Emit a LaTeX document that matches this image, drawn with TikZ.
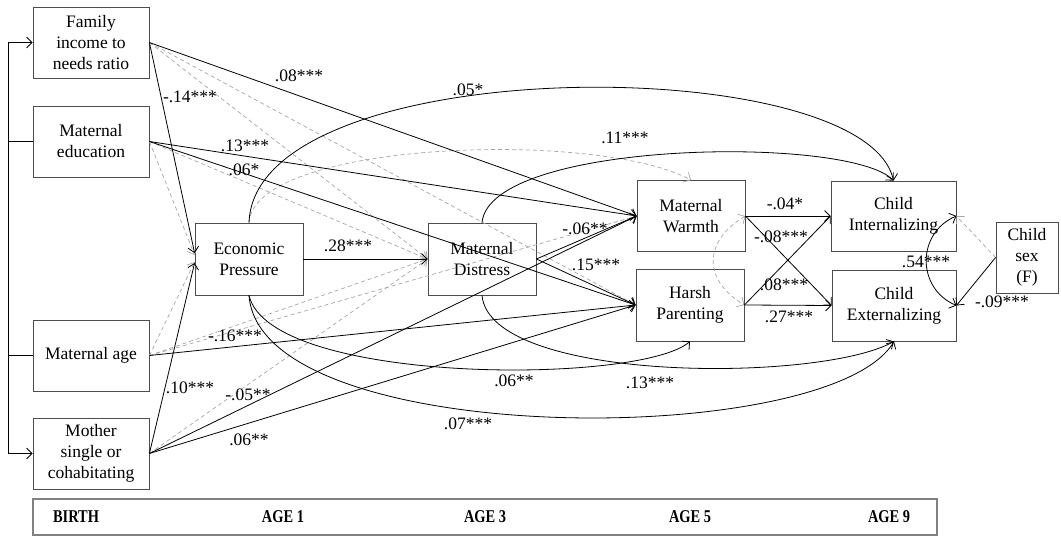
\documentclass[tikz,border=0pt]{standalone}
\usepackage{fontspec}
\setmainfont{Liberation Serif}
\usetikzlibrary{arrows.meta}
\tikzset{
  box/.style={draw=black!70, line width=0.8pt, align=center, inner sep=0pt},
  eff/.style={line width=0.8pt, ->},
  ns/.style={draw=black!35, dash pattern=on 4pt off 3pt, line width=0.7pt, ->},
  lbl/.style={inner sep=0pt},
  age/.style={inner sep=0pt, font=\fontsize{18}{20}\selectfont\bfseries},
}
\begin{document}
\begin{tikzpicture}[x=1pt,y=-1pt, >={Straight Barb[length=5.5pt,width=11pt]}, font=\fontsize{17.5}{21}\selectfont]
	\useasboundingbox (0,0) rectangle (1061,537);
	% boxes
	\node[box, minimum width=116, minimum height=71] (fi) at (91,42.5) {Family\\income to\\needs ratio};
	\node[box, minimum width=116, minimum height=71] (me) at (91,141.5) {Maternal\\education};
	\node[box, minimum width=116, minimum height=71] (ma) at (91,355.5) {Maternal age};
	\node[box, minimum width=116, minimum height=71] (ms) at (91,453.5) {Mother\\single or\\cohabitating};
	\node[box, minimum width=108, minimum height=72] (ep) at (249,259) {Economic\\Pressure};
	\node[box, minimum width=108, minimum height=72] (md) at (482,259) {Maternal\\Distress};
	\node[box, minimum width=108, minimum height=71] (mw) at (691,216) {Maternal\\Warmth};
	\node[box, minimum width=108, minimum height=72] (hp) at (690,305) {Harsh\\Parenting};
	\node[box, minimum width=125, minimum height=70] (ci) at (893.5,216) {Child\\Internalizing};
	\node[box, minimum width=124, minimum height=71] (ce) at (894,305.5) {Child\\Externalizing};
	\node[box, minimum width=62, minimum height=71] (cs) at (1027,257.5) {Child\\sex\\(F)};
	% time line
	\node[draw=black!50, line width=1.2pt, minimum width=904, minimum height=36] (bar) at (485,517) {};
	\node[age] (tb) at (76,517) {\scalebox{0.8}[1]{BIRTH}};
	\node[age] (t1) at (283,517) {\scalebox{0.8}[1]{AGE 1}};
	\node[age] (t3) at (485,517) {\scalebox{0.8}[1]{AGE 3}};
	\node[age] (t5) at (690,517) {\scalebox{0.8}[1]{AGE 5}};
	\node[age] (t9) at (889,517) {\scalebox{0.8}[1]{AGE 9}};
	% correlated birth covariates
	\coordinate (bt) at (8,42.5);
	\coordinate (bb) at (8,453.5);
	\draw[line width=0.8pt] (bt) -- (bb);
	\draw[eff] (bt) -- (fi.west);
	\draw[eff] (bb) -- (ms.west);
	\draw[line width=0.8pt] (me.west) -- (me.west -| bt);
	\draw[line width=0.8pt] (ma.west) -- (ma.west -| bt);
	% non-significant paths
	\draw[ns] (fi.east) -- (md.west);
	\draw[ns] (fi.east) -- (hp.west);
	\draw[ns] (me.east) -- ([yshift=4pt]ep.west);
	\draw[ns] (me.east) -- (md.west);
	\draw[ns] (ma.east) -- ([yshift=-3pt]ep.west);
	\draw[ns] (ma.east) -- (md.west);
	\draw[ns] (ma.east) -- (mw.west);
	\draw[ns] (ms.east) -- (md.west);
	\draw[ns] (ep.north) .. controls (255,140) and (600,130) .. (mw.north);
	\draw[ns,<->] (mw.east) .. controls +(-42,25) and +(-42,-25) .. (hp.east);
	\draw[ns] (cs.west) -- (ci.east);
	% significant paths
	\draw[eff] (fi.east) -- ([yshift=6pt]ep.west);
	\draw[eff] (fi.east) -- (mw.west);
	\draw[eff] (me.east) -- (mw.west);
	\draw[eff] (me.east) -- (hp.west);
	\draw[eff] (ep.east) -- (md.west);
	\draw[eff] (md.east) -- (mw.west);
	\draw[eff] (md.east) -- (hp.west);
	\draw[eff] (ma.east) -- (hp.west);
	\draw[eff] (ms.east) -- ([yshift=-4pt]ep.west);
	\draw[eff] (ms.east) -- (mw.west);
	\draw[eff] (ms.east) -- (hp.west);
	\draw[eff] (mw.east) -- (ci.west);
	\draw[eff] (mw.east) -- (ce.west);
	\draw[eff] (hp.east) -- (ci.west);
	\draw[eff] (hp.east) -- (ce.west);
	\draw[eff] (cs.west) -- (ce.east);
	\draw[eff,<->] (ci.east) .. controls +(-40,17) and +(-40,-17) .. (ce.east);
	\draw[eff] (ep.north) .. controls (255,50) and (865,50) .. (ci.north);
	\draw[eff] (md.north) .. controls (490,140) and (850,135) .. (ci.north);
	\draw[eff] (ep.south) .. controls (270,385) and (640,385) .. (hp.south);
	\draw[eff] (ep.south) .. controls (260,450) and (830,450) .. (ce.south);
	\draw[eff] (md.south) .. controls (490,383) and (820,383) .. (ce.south);
	% coefficients
	\node[lbl] (lfiep) at (190,97) {-.14***};
	\node[lbl] (lfimw) at (299,76) {.08***};
	\node[lbl] (lepci) at (468,90) {.05*};
	\node[lbl] (lmdci) at (625,138) {.11***};
	\node[lbl] (lmemw) at (245,146) {.13***};
	\node[lbl] (lmehp) at (244,170) {.06*};
	\node[lbl] (lepmd) at (348,246) {.28***};
	\node[lbl] (lmdmw) at (585,229) {-.06**};
	\node[lbl] (lmdhp) at (596,265) {.15***};
	\node[lbl] (lmahp) at (235,336) {-.16***};
	\node[lbl] (lmsep) at (190,388) {.10***};
	\node[lbl] (lmsmw) at (248,395) {-.05**};
	\node[lbl] (lmshp) at (249,440) {.06**};
	\node[lbl] (lephp) at (514,381) {.06**};
	\node[lbl] (lmdce) at (650,383) {.13***};
	\node[lbl] (lepce) at (468,424) {.07***};
	\node[lbl] (lmwci) at (785,204) {-.04*};
	\node[lbl] (lmwce) at (781,237) {-.08***};
	\node[lbl] (lhpci) at (784,285) {.08***};
	\node[lbl] (lhpce) at (789,317) {.27***};
	\node[lbl] (lcice) at (926,262) {.54***};
	\node[lbl] (lcsce) at (1002,302) {-.09***};
\end{tikzpicture}
\end{document}
